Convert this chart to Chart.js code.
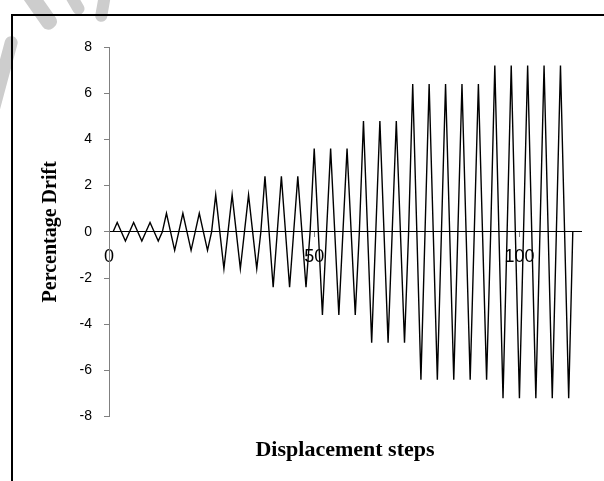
<!DOCTYPE html>
<html>
<head>
<meta charset="utf-8">
<script src="https://cdn.jsdelivr.net/npm/chart.js@4.4.1/dist/chart.umd.min.js"></script>
<style>
    html, body { margin: 0; padding: 0; background: #fff; }
    #wrap { position: relative; width: 604px; height: 481px; overflow: hidden; }
    .wm { position: absolute; background: #cdcdcd; border-radius: 7px; }
    #frame { position: absolute; left: 11px; top: 14px; width: 700px; height: 600px;
             border-left: 2px solid #000; border-top: 2px solid #000; }
    #chart { position: absolute; left: 0; top: 0; }
</style>
</head>
<body>
<div id="wrap">
    <div class="wm" style="left:-4px; top:35px; width:13px; height:80px; transform:rotate(15deg);"></div>
    <div class="wm" style="left:32px; top:-14px; width:16px; height:46px; transform:rotate(-35deg);"></div>
    <div class="wm" style="left:68px; top:-14px; width:12px; height:30px; transform:rotate(-30deg);"></div>
    <div class="wm" style="left:97px; top:-10px; width:12px; height:32px; transform:rotate(10deg);"></div>
    <div id="frame"></div>
    <canvas id="chart" width="604" height="481"></canvas>
</div>
<script>
// Percentage drift at each displacement step
const drift = [
    0, 0.4, 0, -0.4, 0, 0.4, 0, -0.4, 0, 0.4, 0, -0.4,
    0, 0.8, 0, -0.8, 0, 0.8, 0, -0.8, 0, 0.8, 0, -0.8,
    0, 1.6, 0, -1.6, 0, 1.6, 0, -1.6, 0, 1.6, 0, -1.6,
    0, 2.4, 0, -2.4, 0, 2.4, 0, -2.4, 0, 2.4, 0, -2.4,
    0, 3.6, 0, -3.6, 0, 3.6, 0, -3.6, 0, 3.6, 0, -3.6,
    0, 4.8, 0, -4.8, 0, 4.8, 0, -4.8, 0, 4.8, 0, -4.8,
    0, 6.4, 0, -6.4, 0, 6.4, 0, -6.4, 0, 6.4, 0, -6.4, 0, 6.4, 0, -6.4, 0, 6.4, 0, -6.4,
    0, 7.2, 0, -7.2, 0, 7.2, 0, -7.2, 0, 7.2, 0, -7.2, 0, 7.2, 0, -7.2, 0, 7.2, 0, -7.2,
    0
];
const firstStep = 1;
const xTicks = [0, 50, 100];
const yTicks = [-8, -6, -4, -2, 0, 2, 4, 6, 8];

const points = drift.map((v, i) => ({ x: firstStep + i, y: v }));

const sansFamily = '"Liberation Sans", Arial, sans-serif';
const serifFamily = '"Liberation Serif", "Times New Roman", serif';

new Chart(document.getElementById('chart'), {
    type: 'line',
    data: {
        datasets: [{
            label: 'Percentage Drift',
            data: points,
            borderColor: '#000',
            borderWidth: 1.4,
            pointRadius: 0,
            tension: 0,
            fill: false
        }]
    },
    options: {
        responsive: false,
        animation: false,
        layout: { padding: { left: 0, right: 23, top: 47, bottom: 0 } },
        plugins: {
            legend: { display: false },
            tooltip: { enabled: false },
            title: {
                display: true,
                text: 'Displacement steps',
                position: 'bottom',
                fullSize: false,
                color: '#000',
                font: { family: serifFamily, size: 22, weight: 'bold' },
                padding: { top: 21, bottom: 17 }
            }
        },
        scales: {
            x: {
                type: 'linear',
                position: { y: 0 },
                min: 0,
                max: 115,
                afterBuildTicks: s => { s.ticks = xTicks.map(v => ({ value: v })); },
                ticks: { color: '#000', font: { family: sansFamily, size: 18 }, padding: 9, maxRotation: 0 },
                grid: { drawOnChartArea: false, drawTicks: true, tickLength: 5, color: '#808080' },
                border: { color: '#000', width: 1 }
            },
            y: {
                min: -8,
                max: 8,
                afterBuildTicks: s => { s.ticks = yTicks.map(v => ({ value: v })); },
                afterFit: s => { s.width = 109; },
                ticks: { color: '#000', font: { family: sansFamily, size: 14 }, padding: 12 },
                grid: { drawOnChartArea: false, drawTicks: true, tickLength: 5, color: '#808080' },
                border: { color: '#808080', width: 1 },
                title: {
                    display: true,
                    text: 'Percentage Drift',
                    color: '#000',
                    font: { family: serifFamily, size: 20, weight: 'bold' },
                    padding: { top: 39, bottom: 0 }
                }
            }
        }
    }
});
</script>
</body>
</html>
